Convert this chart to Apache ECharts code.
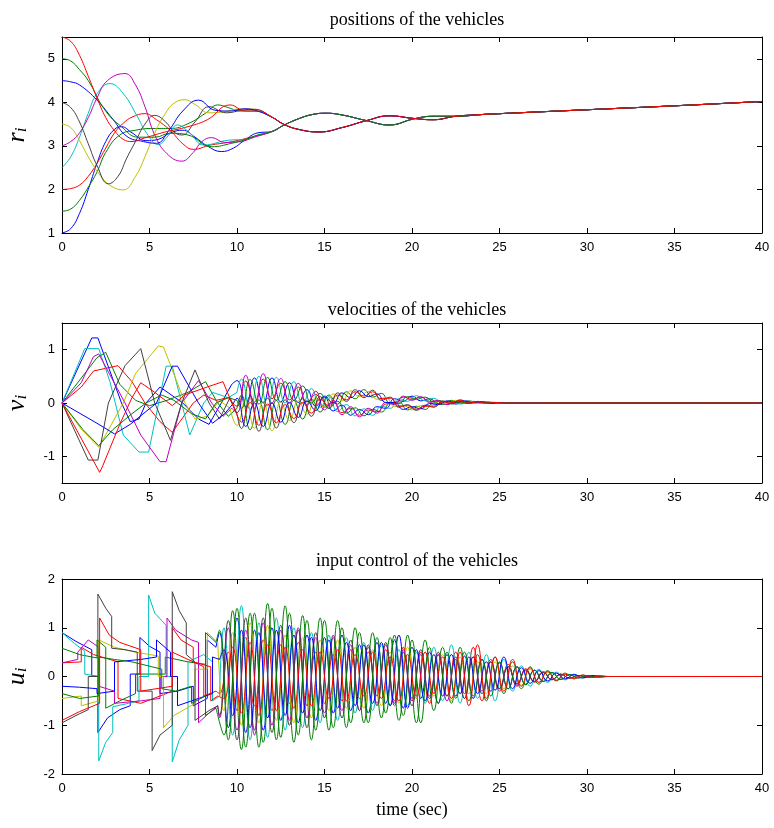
<!DOCTYPE html>
<html><head><meta charset="utf-8">
<script src="https://cdn.jsdelivr.net/npm/echarts@6/dist/echarts.min.js"></script>
<style>html,body{margin:0;padding:0;background:#fff}#c{width:774px;height:828px}</style>
</head><body><div id="c"></div>
<script>
// ---------- colours (MATLAB default cycle) ----------
const vehicleColors = ['#0000ff','#008000','#ff0000','#00bfbf','#bf00bf','#bfbf00','#404040','#0000ff','#008000','#ff0000'];
const xTicks = [0,5,10,15,20,25,30,35,40];
const rTicks = [1,2,3,4,5];
const vTicks = [-1,0,1];
const uTicks = [-2,-1,0,1,2];

// ---------- positions r_i: early knots [t, r] ----------
const pos1 = [[0,1],[0.5,1.1],[1,1.45],[1.5,2.0],[2,2.6],[2.5,3.1],[3,3.38],[3.4,3.44],[4,3.3],[4.8,3.12],[5.5,3.15],[6.2,3.3],[6.9,3.36],[7.6,3.2],[8.3,3.0],[9.1,2.87],[9.8,2.95],[10.4,3.12],[11.2,3.3]];
const pos2 = [[0,1.5],[0.5,1.55],[1,1.75],[1.5,2.05],[2,2.4],[2.5,2.85],[3.3,3.25],[4.2,3.36],[5.2,3.4],[6.2,3.4],[7.2,3.51],[8.2,3.75],[8.9,3.94],[9.5,3.88],[10.2,3.8],[11,3.8]];
const pos3 = [[0,2],[0.5,2.02],[1,2.1],[1.5,2.3],[2,2.6],[2.5,2.95],[3,3.3],[3.5,3.52],[4,3.66],[4.74,3.74],[5.4,3.6],[6.2,3.35],[6.9,3.05],[7.5,2.92],[8.5,3.02],[9.5,3.08],[10.3,3.15],[11,3.22]];
const pos4 = [[0,2.5],[0.5,2.75],[1,3.2],[1.5,3.75],[2,4.2],[2.74,4.43],[3.5,4.2],[4.27,3.7],[4.84,3.29],[5.5,3.03],[6,3.2],[6.6,3.48],[7.3,3.3],[8.1,3.02],[9.5,3.13],[10.5,3.15],[11.2,3.25]];
const pos5 = [[0,3],[0.5,3.1],[1,3.3],[1.5,3.65],[2,4.1],[2.6,4.5],[3.6,4.66],[4.2,4.4],[4.74,3.9],[5.3,3.25],[6,2.82],[6.84,2.65],[7.5,2.85],[8,3.1],[8.55,3.19],[9.3,3.08],[10.2,3.1],[11,3.2]];
const pos6 = [[0,3.5],[0.5,3.42],[1,3.12],[1.5,2.75],[2.17,2.33],[2.8,2.08],[3.5,1.99],[4.2,2.3],[4.74,2.75],[5.3,3.3],[5.9,3.74],[6.4,3.98],[7.03,4.06],[7.6,3.95],[8.4,3.76],[9.2,3.78],[10.2,3.85],[11,3.84]];
const pos7 = [[0,4],[0.5,3.88],[1,3.55],[1.5,3.05],[2,2.55],[2.65,2.13],[3.2,2.3],[3.7,2.72],[4.2,3.1],[4.74,3.5],[5.3,3.7],[5.9,3.56],[6.4,3.32],[6.84,3.25],[7.6,3.55],[8.4,3.9],[9.4,3.76],[10.3,3.82],[11,3.84]];
const pos8 = [[0,4.5],[0.5,4.47],[1,4.4],[2,4.05],[2.93,3.6],[3.7,3.22],[4.65,3.1],[5.4,3.06],[6.1,3.35],[6.9,3.8],[7.8,4.05],[8.74,3.82],[9.6,3.8],[10.4,3.85],[11,3.82]];
const pos9 = [[0,5],[0.5,4.95],[1,4.75],[1.5,4.5],[2.46,3.82],[3.4,3.44],[4.36,3.2],[5.3,3.2],[6.2,3.29],[7.2,3.25],[8.55,2.98],[9.7,3.06],[10.5,3.15],[11.2,3.25]];
const pos10 = [[0,5.5],[0.5,5.4],[1,5.08],[1.5,4.6],[2,4.1],[2.5,3.65],[3,3.35],[3.5,3.15],[4,3.1],[4.7,3.18],[5.9,3.32],[7,3.42],[8.3,3.6],[9.6,3.94],[10.5,3.8],[11.2,3.8]];
// late behaviour: two bundles
const posTailU = [[12,3.66],[12.65,3.5],[13.5,3.38],[14.7,3.32],[16,3.42],[17.4,3.58],[18.7,3.69],[20.1,3.63],[21.2,3.6],[22.5,3.68],[24,3.72],[25,3.74],[30,3.83],[35,3.92],[40,4.02]];
const posTailL = [[12,3.33],[12.65,3.47],[13.5,3.62],[14.3,3.72],[15.1,3.75],[16,3.71],[17.4,3.58],[18.7,3.48],[20.1,3.62],[21.2,3.68],[22.5,3.68],[24,3.72],[25,3.74],[30,3.83],[35,3.92],[40,4.02]];
const posBundle = ['L','U','L','L','L','U','U','U','L','U'];

// ---------- velocities v_i ----------
const vel1 = [[0,0],[1.7,1.22],[2.05,1.22],[3.4,0],[3.9,-0.35],[4.4,-0.3],[4.8,0],[5.6,0.3],[6.9,0],[7.8,-0.3],[8.4,-0.4],[9.1,0],[9.7,0.35]];
const vel2 = [[0,0],[2.0,0.85],[2.5,0.95],[3.3,0.35],[4.2,0.05],[5.0,-0.05],[6.0,0.05],[7.2,0.2],[8.2,0.4],[8.9,0],[9.5,-0.25],[10,-0.1]];
const vel3 = [[0,0],[1.1,0.3],[1.8,0.6],[3.2,0.7],[4.0,0.4],[4.74,0],[5.6,-0.35],[6.3,-0.55],[7.5,0],[8.1,0.15],[8.8,0.05],[9.5,0.1]];
const vel4 = [[0,0],[1.3,1.02],[2.1,1.02],[2.74,0.4],[3.5,-0.6],[4.4,-0.92],[4.95,-0.92],[5.95,0.69],[6.3,0.69],[7.3,-0.6],[8.1,0],[8.6,0.2],[9.5,0.1],[10,0.2]];
const vel5 = [[0,0],[1.1,0.38],[1.8,0.87],[2.1,0.92],[3.6,0],[4.5,-0.6],[5.6,-1.1],[5.95,-1.1],[6.84,0],[7.8,0.42],[8.55,0],[9.2,-0.25],[9.7,-0.1]];
const vel6 = [[0,0],[1.1,-0.49],[2.1,-0.83],[2.2,-0.8],[3.5,0],[4.2,0.55],[5.5,1.07],[5.8,1.05],[7.03,0],[7.6,-0.3],[8.3,-0.25],[9.0,0.05],[9.6,-0.1]];
const vel7 = [[0,0],[1.5,-1.07],[2.05,-1.07],[2.65,0],[3.6,0.7],[4.5,1.02],[5.3,0],[6.2,-0.7],[6.84,0],[7.6,0.62],[8.4,0],[9.0,-0.3],[9.6,0.1],[10.0,-0.2]];
const vel8 = [[0,0],[2.0,-0.38],[3.0,-0.58],[3.9,-0.4],[5.4,0],[6.3,0.69],[6.6,0.69],[7.8,0],[8.6,-0.38],[9.3,-0.2],[9.8,0.0]];
const vel9 = [[0,0],[1.2,-0.5],[2.1,-0.8],[2.9,-0.5],[4.0,-0.2],[4.8,0],[5.7,0.15],[6.4,0.05],[7.4,-0.2],[8.2,-0.3],[8.8,0],[9.5,0.1],[10,0.05]];
const vel10 = [[0,0],[2.15,-1.3],[2.3,-1.2],[3.3,-0.4],[4.0,0.1],[4.5,0.38],[5.3,0.2],[6.3,-0.05],[7.0,0.15],[8.3,0.3],[9.2,0.4],[9.7,0],[10.1,-0.3]];
const velTimeA = [10,10.5,11,11.5,12,12.5,13,13.5,14,14.5,15,15.5,16,16.5,17,17.5,18,18.5,19,19.5,20,20.5,21,21.5,22,22.5,23,23.5,24,24.5,25,25.5,26];
const velTimeB = [10.25,10.75,11.25,11.75,12.25,12.75,13.25,13.75,14.25,14.75,15.25,15.75,16.25,16.75,17.25,17.75,18.25,18.75,19.25,19.75,20.25,20.75,21.25,21.75,22.25,22.75,23.25,23.75,24.25,24.75,25.25,25.75,26.25];
const velLate1 = [0.42,-0.07,0.47,0,0.47,0.02,0.38,0.01,0.25,-0.06,0.11,-0.15,-0.04,-0.23,-0.12,-0.22,-0.07,-0.1,0.08,0.03,0.13,0.04,0.08,-0.01,0.03,-0.02,0.03,0.01,0.02,0,0.01,0,0];
const velLate2 = [0.15,-0.5,0.06,-0.5,0.05,-0.4,0.05,-0.3,0.07,-0.17,0.15,-0.02,0.21,0.08,0.25,0.11,0.18,0,0.02,-0.13,-0.06,-0.12,0,-0.03,0.05,0.01,0.04,0,0.02,-0.01,0.01,0,0];
const velLate3 = [-0.06,0.41,0.02,0.45,0.08,0.37,0.06,0.3,0.02,0.16,-0.08,0.01,-0.18,-0.1,-0.23,-0.13,-0.16,-0.02,0,0.11,0.07,0.11,0.03,0.04,-0.02,0.02,-0.01,0.03,0,0.01,0,0,0];
const velLate4 = [0.45,-0.12,0.5,-0.05,0.48,0,0.4,-0.01,0.27,-0.08,0.12,-0.16,-0.03,-0.24,-0.11,-0.23,-0.06,-0.1,0.08,0.03,0.14,0.04,0.09,-0.01,0.03,-0.02,0.03,0.01,0.02,0,0.01,0,0];
const velLate5 = [-0.18,0.52,-0.1,0.55,0,0.46,0,0.37,-0.04,0.22,-0.13,0.05,-0.22,-0.07,-0.26,-0.1,-0.19,0.01,-0.03,0.13,0.05,0.12,0.01,0.05,-0.03,0.03,-0.01,0.03,0,0.015,0,0,0];
const velLate6 = [-0.42,0.07,-0.47,0.03,-0.52,0.02,-0.33,0.04,-0.21,0.1,-0.08,0.17,0.04,0.23,0.12,0.22,0.07,0.1,-0.07,-0.04,-0.13,-0.05,-0.07,0.02,-0.01,0.05,0,0.02,0,0.01,0,0,0];
const velLate7 = [-0.48,0.13,-0.53,0.09,-0.47,0.06,-0.37,0.08,-0.25,0.12,-0.1,0.19,0.03,0.25,0.1,0.24,0.05,0.11,-0.08,-0.03,-0.14,-0.04,-0.08,0.03,-0.01,0.06,0,0.03,0,0.01,0,0,0];
const velLate8 = [0.09,-0.44,0,-0.44,0,-0.36,0.01,-0.27,0.04,-0.14,0.13,0,0.19,0.1,0.23,0.12,0.17,0.01,0.01,-0.12,-0.07,-0.11,-0.01,-0.03,0.04,0.01,0.04,0,0.02,-0.005,0.005,0,0];
const velLate9 = [-0.1,0.44,-0.02,0.48,0.05,0.4,0.05,0.32,0,0.18,-0.1,0.03,-0.19,-0.09,-0.24,-0.12,-0.17,-0.01,-0.01,0.12,0.07,0.11,0.02,0.04,-0.02,0.02,-0.01,0.03,0,0.01,0,0,0];
const velLate10 = [-0.36,0.01,-0.42,-0.02,-0.37,-0.03,-0.29,0.01,-0.19,0.07,-0.05,0.15,0.06,0.21,0.13,0.21,0.08,0.09,-0.06,-0.05,-0.12,-0.06,-0.06,0.02,0,0.05,0,0.02,0,0.01,0,0,0];
const velGridOf = ['A','B','A','B','A','A','B','A','B','B'];
const velTail = [[28,0],[40,0]];

// ---------- input control u_i ----------
const inp1 = [[0,0.9],[0.8,0.72],[1.7,0.55],[1.7,0.02],[2.05,0],[2.05,-1.15],[2.6,-0.85],[3.3,-0.68],[3.9,-0.6],[3.9,0.05],[4.45,0.05],[4.45,0.8],[5.0,0.62],[5.6,0.5],[5.6,-0.35],[6.6,-0.3],[7.5,-0.2],[7.5,-0.6],[8.3,-0.45],[8.3,0.75],[8.8,0.6]];
const inp2 = [[0,0.58],[1.0,0.45],[2.0,0.38],[2.0,0.75],[2.5,0.6],[2.5,-0.65],[3.3,-0.5],[4.2,-0.35],[4.2,0.05],[5.9,0.05],[5.9,0.4],[7.2,0.3],[8.2,0.25],[8.2,-0.8],[8.8,-0.65]];
const inp3 = [[0,0.28],[1.1,0.3],[1.1,0.6],[1.8,0.45],[3.2,0.3],[3.2,-0.45],[4.5,-0.55],[5.6,-0.4],[6.3,-0.3],[6.3,1.0],[6.8,0.75],[7.5,0.6],[7.5,0.3],[8.1,0.2],[8.1,-0.4],[8.8,-0.3]];
const inp4 = [[0,0.9],[0.7,0.68],[1.3,0.52],[1.3,0.05],[2.1,0],[2.1,-1.73],[2.5,-1.35],[2.9,-1.15],[2.9,-0.62],[3.8,-0.55],[4.4,-0.5],[4.4,0],[4.95,0],[4.95,1.67],[5.3,1.3],[5.95,1.05],[5.95,0],[6.3,0],[6.3,-1.75],[6.7,-1.3],[7.2,-1.0],[7.2,0.3],[8.1,0.45],[8.6,0.3],[8.6,-0.5],[9.0,-0.4]];
const inp5 = [[0,0.28],[0.9,0.35],[0.9,0.5],[1.5,0.75],[2.1,0.6],[2.1,-0.2],[3.0,-0.3],[3.0,-0.55],[4.5,-0.5],[5.6,-0.45],[5.6,0],[6.0,0],[6.0,1.2],[6.5,0.95],[7.4,0.75],[7.8,0.7],[7.8,-0.95],[8.4,-0.75],[8.9,-0.6]];
const inp6 = [[0,-0.45],[1.1,-0.4],[1.1,-0.6],[2.1,-0.5],[2.1,0.75],[3.0,0.6],[4.2,0.5],[5.5,0.42],[5.5,0],[5.8,0],[5.8,-1.05],[6.4,-0.8],[7.6,-0.55],[7.6,0.15],[8.3,0.15],[8.3,0.9],[8.9,0.7]];
const inp7 = [[0,-0.95],[0.8,-0.8],[1.5,-0.68],[1.5,0],[2.05,0],[2.05,1.69],[2.5,1.4],[2.84,1.23],[2.84,0.58],[3.6,0.55],[4.3,0.5],[4.3,-0.3],[5.15,-0.3],[5.15,-1.52],[5.6,-1.2],[6.3,-1.0],[6.3,1.74],[6.7,1.35],[7.1,1.1],[7.1,0.45],[7.6,0.3],[7.6,-0.9],[8.4,-0.7],[8.9,-0.6]];
const inp8 = [[0,-0.2],[1.0,-0.22],[2.0,-0.25],[2.0,-0.35],[3.0,-0.3],[3.0,0.3],[4.5,0.35],[5.4,0.4],[5.4,0.75],[6.2,0.5],[6.2,0],[6.6,0],[6.6,-0.6],[7.8,-0.45],[8.6,-0.35],[8.6,0.4],[9.0,0.35]];
const inp9 = [[0,-0.35],[1.0,-0.45],[2.1,-0.4],[2.1,0.4],[3.0,0.35],[4.0,0.3],[5.7,0.15],[5.7,-0.25],[6.5,-0.3],[7.4,-0.2],[7.4,-0.55],[8.2,-0.4],[8.2,0.9],[8.8,0.7]];
const inp10 = [[0,-0.9],[1.0,-0.72],[2.15,-0.55],[2.15,1.2],[2.7,0.85],[3.3,0.7],[4.5,0.55],[4.5,-0.3],[6.3,-0.2],[6.3,0.5],[7.5,0.3],[8.5,0.2],[8.5,-0.5],[8.9,-0.4]];
const inpTimeA = [9,9.5,10,10.5,11,11.5,12,12.5,13,13.5,14,14.5,15,15.5,16,16.5,17,17.5,18,18.5,19,19.5,20,20.5,21,21.5,22,22.5,23,23.5,24,24.5,25,25.5,26,26.5,27,27.5,28,28.5,29,29.5,30,30.5,31];
const inpTimeB = [9.25,9.75,10.25,10.75,11.25,11.75,12.25,12.75,13.25,13.75,14.25,14.75,15.25,15.75,16.25,16.75,17.25,17.75,18.25,18.75,19.25,19.75,20.25,20.75,21.25,21.75,22.25,22.75,23.25,23.75,24.25,24.75,25.25,25.75,26.25,26.75,27.25,27.75,28.25,28.75,29.25,29.75,30.25,30.75,31.25];
const inpLate1 = [0.9,-1.05,1.2,-1.15,0.95,-1.1,1.0,-0.9,1.05,-0.95,0.85,-0.9,0.8,-0.75,0.85,-0.7,0.65,-0.75,0.7,-0.55,0.75,-0.65,0.6,-0.45,0.5,-0.55,0.45,-0.4,0.42,-0.45,0.35,-0.3,0.28,-0.25,0.2,-0.16,0.13,-0.1,0.08,-0.06,0.04,-0.03,0.02,-0.01,0];
const inpLate2 = [-1.2,1.35,-1.5,1.3,-1.45,1.5,-1.3,1.45,-1.35,1.25,-1.3,1.2,-1.1,1.15,-1.05,1.0,-0.95,0.9,-0.85,0.8,-0.9,0.85,-0.95,0.75,-0.7,0.6,-0.55,0.6,-0.5,0.45,-0.5,0.4,-0.35,0.3,-0.25,0.2,-0.16,0.12,-0.09,0.07,-0.05,0.03,-0.02,0.01,0];
const inpLate3 = [-0.35,0.5,-0.7,0.8,-0.6,0.75,-0.7,0.65,-0.55,0.7,-0.6,0.5,-0.55,0.45,-0.5,0.55,-0.45,0.5,-0.4,0.55,-0.5,0.6,-0.45,0.5,-0.55,0.45,-0.4,0.5,-0.45,0.6,-0.5,0.35,-0.3,0.25,-0.2,0.16,-0.12,0.1,-0.07,0.05,-0.04,0.02,-0.01,0.01,0];
const inpLate4 = [1.0,-1.2,1.45,-1.3,1.1,-1.25,1.2,-1.1,1.0,-1.05,0.9,-0.95,0.85,-0.9,0.8,-0.75,0.7,-0.7,0.65,-0.6,0.55,-0.6,0.5,-0.55,0.6,-0.5,0.65,-0.55,0.5,-0.45,0.45,-0.5,0.35,-0.3,0.22,-0.2,0.15,-0.12,0.09,-0.07,0.05,-0.03,0.02,-0.01,0];
const inpLate5 = [-0.85,1.0,-1.1,0.95,-1.2,1.1,-1.0,0.95,-0.9,1.0,-0.85,0.8,-0.75,0.85,-0.7,0.65,-0.7,0.6,-0.55,0.65,-0.6,0.55,-0.5,0.45,-0.4,0.45,-0.5,0.4,-0.35,0.4,-0.3,0.3,-0.25,0.2,-0.18,0.14,-0.1,0.08,-0.06,0.05,-0.03,0.02,-0.01,0.01,0];
const inpLate6 = [-0.7,0.9,-1.0,1.1,-0.95,1.05,-0.9,0.85,-0.95,0.8,-0.85,0.75,-0.7,0.75,-0.65,0.6,-0.65,0.55,-0.6,0.5,-0.55,0.6,-0.45,0.5,-0.4,0.45,-0.5,0.4,-0.35,0.3,-0.35,0.3,-0.25,0.22,-0.18,0.15,-0.12,0.09,-0.07,0.05,-0.04,0.02,-0.01,0.01,0];
const inpLate7 = [-0.8,1.15,-1.3,1.2,-1.1,1.2,-1.15,1.05,-1.0,0.95,-1.05,0.9,-0.85,0.8,-0.85,0.75,-0.7,0.65,-0.6,0.7,-0.55,0.5,-0.6,0.55,-0.45,0.5,-0.4,0.35,-0.45,0.4,-0.35,0.3,-0.25,0.2,-0.15,0.12,-0.1,0.08,-0.06,0.04,-0.03,0.02,-0.01,0.01,0];
const inpLate8 = [0.55,-0.8,0.95,-1.05,0.9,-0.85,0.95,-0.8,0.85,-0.75,0.8,-0.7,0.75,-0.65,0.7,-0.6,0.65,-0.55,0.7,-0.6,0.85,-0.65,0.55,-0.5,0.45,-0.4,0.45,-0.35,0.4,-0.35,0.3,-0.28,0.4,-0.25,0.18,-0.14,0.12,-0.09,0.07,-0.05,0.04,-0.03,0.02,-0.01,0];
const inpLate9 = [0.95,-1.3,1.4,-1.45,1.3,-1.35,1.4,-1.25,1.3,-1.2,1.15,-1.1,1.15,-1.05,1.0,-0.95,0.9,-0.95,0.8,-0.75,0.85,-0.8,0.75,-0.95,0.6,-0.55,0.5,-0.45,0.5,-0.4,0.35,-0.4,0.3,-0.25,0.2,-0.17,0.13,-0.1,0.08,-0.06,0.04,-0.03,0.02,-0.01,0];
const inpLate10 = [-0.45,0.6,-0.75,0.7,-0.8,0.65,-0.7,0.6,-0.65,0.55,-0.6,0.5,-0.45,0.55,-0.5,0.45,-0.4,0.5,-0.45,0.4,-0.5,0.45,-0.4,0.5,-0.35,0.4,-0.45,0.5,-0.6,0.65,-0.45,0.4,-0.3,0.35,-0.2,0.18,-0.12,0.1,-0.08,0.05,-0.04,0.03,-0.02,0.01,0];
const inpGridOf = ['A','B','A','B','A','B','A','B','A','B'];
const inpTail = [[32,0],[40,0]];

// ---------- build ----------
const posEarly = [pos1,pos2,pos3,pos4,pos5,pos6,pos7,pos8,pos9,pos10];
const velEarly = [vel1,vel2,vel3,vel4,vel5,vel6,vel7,vel8,vel9,vel10];
const velLate = [velLate1,velLate2,velLate3,velLate4,velLate5,velLate6,velLate7,velLate8,velLate9,velLate10];
const inpEarly = [inp1,inp2,inp3,inp4,inp5,inp6,inp7,inp8,inp9,inp10];
const inpLate = [inpLate1,inpLate2,inpLate3,inpLate4,inpLate5,inpLate6,inpLate7,inpLate8,inpLate9,inpLate10];

const zip = (ts, vs) => ts.map((t, i) => [t, vs[i]]);
const series = [];
const lineBase = (c, xi, yi, smooth, data) => ({
  type: 'line', xAxisIndex: xi, yAxisIndex: yi, data, smooth, symbol: 'none',
  lineStyle: { color: c, width: 1 }, itemStyle: { color: c }, silent: true, animation: false
});
for (let k = 0; k < 10; k++) {
  const c = vehicleColors[k];
  const tail = posBundle[k] === 'U' ? posTailU : posTailL;
  series.push(lineBase(c, 0, 0, 0.45, posEarly[k].concat(tail)));
}
for (let k = 0; k < 10; k++) {
  const c = vehicleColors[k];
  const e = velEarly[k];
  const ts = velGridOf[k] === 'A' ? velTimeA : velTimeB;
  series.push(lineBase(c, 2, 2, false, e));
  series.push(lineBase(c, 2, 2, 0.5, [e[e.length - 1]].concat(zip(ts, velLate[k])).concat(velTail)));
}
for (let k = 0; k < 10; k++) {
  const c = vehicleColors[k];
  const e = inpEarly[k];
  const ts = inpGridOf[k] === 'A' ? inpTimeA : inpTimeB;
  series.push(lineBase(c, 4, 4, false, e));
  series.push(lineBase(c, 4, 4, 0.5, [e[e.length - 1]].concat(zip(ts, inpLate[k])).concat(inpTail)));
}

const axisLine = { show: true, onZero: false, lineStyle: { color: '#000', width: 1 } };
const tickFont = { color: '#000', fontSize: 13, fontFamily: 'Liberation Sans, Arial, sans-serif' };
const serif = 'Liberation Serif, Times New Roman, serif';

const grids = [
  { left: 62, top: 37, width: 700, height: 196, containLabel: false, outerBoundsMode: 'none' },
  { left: 62, top: 323, width: 700, height: 160, containLabel: false, outerBoundsMode: 'none' },
  { left: 62, top: 579, width: 700, height: 195, containLabel: false, outerBoundsMode: 'none' }
];
const yDefs = [
  { min: 1, max: 5.5, ticks: rTicks, sym: 'r' },
  { min: -1.5, max: 1.5, ticks: vTicks, sym: 'v' },
  { min: -2, max: 2, ticks: uTicks, sym: 'u' }
];
const xAxes = [], yAxes = [];
for (let g = 0; g < 3; g++) {
  const xMain = {
    gridIndex: g, type: 'value', min: 0, max: 40, position: 'bottom',
    axisLine, splitLine: { show: false },
    axisTick: { show: true, inside: true, length: 5, customValues: xTicks, lineStyle: { color: '#000' } },
    axisLabel: Object.assign({ margin: 8, customValues: xTicks }, tickFont)
  };
  if (g === 2) {
    xMain.name = 'time (sec)';
    xMain.nameLocation = 'middle';
    xMain.nameGap = 27;
    xMain.nameTextStyle = { fontFamily: serif, fontSize: 18, color: '#000' };
  }
  xAxes.push(xMain);
  xAxes.push({
    gridIndex: g, type: 'value', min: 0, max: 40, position: 'top',
    axisLine, splitLine: { show: false },
    axisTick: { show: true, inside: true, length: 5, customValues: xTicks, lineStyle: { color: '#000' } },
    axisLabel: { show: false }
  });
  const d = yDefs[g];
  yAxes.push({
    gridIndex: g, type: 'value', min: d.min, max: d.max, position: 'left',
    axisLine, splitLine: { show: false },
    axisTick: { show: true, inside: true, length: 5, customValues: d.ticks, lineStyle: { color: '#000' } },
    axisLabel: Object.assign({ margin: 7, customValues: d.ticks }, tickFont),
    name: '{a|' + d.sym + '}{b|i}', nameLocation: 'middle', nameGap: 30, nameRotate: 90,
    nameTextStyle: {
      rich: {
        a: { fontFamily: serif, fontStyle: 'italic', fontSize: 26, color: '#000', lineHeight: 30 },
        b: { fontFamily: serif, fontStyle: 'italic', fontSize: 17, color: '#000', lineHeight: 30, padding: [10, 0, 0, 0] }
      }
    }
  });
  yAxes.push({
    gridIndex: g, type: 'value', min: d.min, max: d.max, position: 'right',
    axisLine, splitLine: { show: false },
    axisTick: { show: true, inside: true, length: 5, customValues: d.ticks, lineStyle: { color: '#000' } },
    axisLabel: { show: false }
  });
}

const titleStyle = { fontFamily: serif, fontSize: 18, fontWeight: 'normal', color: '#000' };
const option = {
  animation: false,
  backgroundColor: '#fff',
  title: [
    { text: 'positions of the vehicles', left: 412, top: 6, textAlign: 'center', textStyle: titleStyle },
    { text: 'velocities of the vehicles', left: 412, top: 296, textAlign: 'center', textStyle: titleStyle },
    { text: 'input control of the vehicles', left: 412, top: 547, textAlign: 'center', textStyle: titleStyle }
  ],
  grid: grids,
  xAxis: xAxes,
  yAxis: yAxes,
  series
};
const chart = echarts.init(document.getElementById('c'), null, { renderer: 'canvas' });
chart.setOption(option);
</script></body></html>
